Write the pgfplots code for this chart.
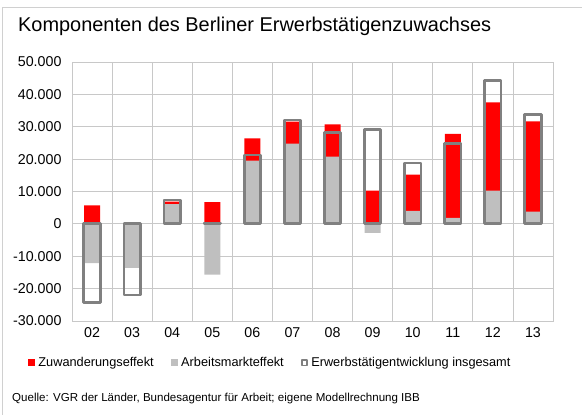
\documentclass[border=0pt]{standalone}
\usepackage{pgfplots}
\pgfplotsset{compat=1.18}
\usepackage{pgfplotstable}
\usepackage{fontspec}
\setmainfont{Liberation Sans}
\definecolor{zuw}{HTML}{FF0000}
\definecolor{arb}{HTML}{BFBFBF}
\definecolor{ges}{HTML}{808080}
\definecolor{gridc}{HTML}{C8C8C8}
\definecolor{framec}{HTML}{D0D0D0}

\pgfplotstableread{
x zuw arb ges
0 5700 -12100 -24300
1 0 -13600 -22000
2 800 6100 7400
3 6700 -15700 300
4 6850 19550 21300
5 6800 24800 32100
6 9900 20800 28300
7 10300 -2800 29200
8 11200 4000 18800
9 25950 1850 24800
10 27250 10300 44400
11 27900 3800 33700
}\datatable

\begin{document}
\begin{tikzpicture}
\useasboundingbox (0bp,0bp) rectangle (582bp,415bp);
\draw[framec, line width=1bp] (2.5bp,0bp) -- (2.5bp,407bp) -- (582bp,407bp);
\node[anchor=base west, inner sep=0pt, font=\fontsize{20}{22}\selectfont] at (18bp,383bp) {Komponenten des Berliner Erwerbstätigenzuwachses};
\node[anchor=base west, inner sep=0pt, font=\fontsize{11.6}{13}\selectfont] at (12bp,14bp) {Quelle: VGR der Länder, Bundesagentur für Arbeit; eigene Modellrechnung IBB};
\begin{axis}[
  at={(72bp,94bp)}, anchor=south west,
  scale only axis, width=481bp, height=259bp,
  xmin=-0.5, xmax=11.5, ymin=-30000, ymax=50000,
  xtick={0,...,11}, xticklabels={02,03,04,05,06,07,08,09,10,11,12,13},
  minor xtick={0.5,1.5,...,10.5},
  ytick={-30000,-20000,...,50000},
  scaled y ticks=false,
  /pgf/number format/.cd, 1000 sep={.}, assume math mode=true, /pgfplots/.cd,
  major tick length=0pt, minor tick length=0pt,
  ymajorgrids, xminorgrids,
  grid style={gridc, line width=0.8bp},
  minor grid style={gridc, line width=0.8bp},
  axis line style={gridc, line width=0.8bp},
  tick label style={font=\fontsize{14.3}{16}\selectfont},
  yticklabel style={xshift=-7bp},
  xticklabel style={yshift=-3bp},
  legend style={at={(axis description cs:-0.092,-0.162)}, anchor=west, draw=none, fill=none,
    inner sep=0pt, font=\fontsize{12.8}{15}\selectfont,
    /tikz/every odd column/.append style={column sep=1.5bp},
    /tikz/every even column/.append style={column sep=15bp}},
  legend columns=3,
]
\addplot[ybar, bar width=16bp, bar shift=0pt, fill=zuw, draw=none,
  legend image code/.code={\fill[zuw] (0bp,-3.5bp) rectangle (7bp,3.5bp);}]
  table[x=x, y expr={max(\thisrow{arb},0)+\thisrow{zuw}}] {\datatable};
\addlegendentry{Zuwanderungseffekt}
\addplot[ybar, bar width=16bp, bar shift=0pt, fill=arb, draw=none,
  legend image code/.code={\fill[arb] (0bp,-3.5bp) rectangle (7bp,3.5bp);}]
  table[x=x, y=arb] {\datatable};
\addlegendentry{Arbeitsmarkteffekt}
\addplot[ybar, bar width=16.4bp, bar shift=0pt, fill=none, draw=ges, line width=2.8bp, line join=round,
  legend image code/.code={\draw[ges, line width=1.8bp, line join=round] (0.9bp,-2.6bp) rectangle (6.1bp,2.6bp);}]
  table[x=x, y=ges] {\datatable};
\addlegendentry{Erwerbstätigentwicklung insgesamt}
\end{axis}
\end{tikzpicture}
\end{document}
